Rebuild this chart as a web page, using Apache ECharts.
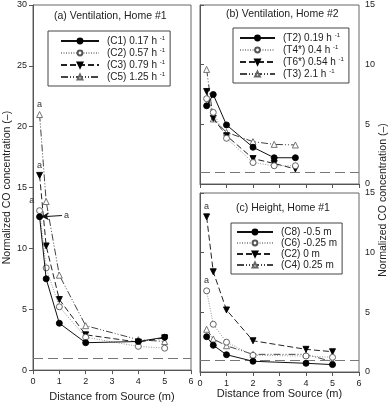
<!DOCTYPE html>
<html><head><meta charset="utf-8">
<script src="https://cdn.jsdelivr.net/npm/echarts@6/dist/echarts.min.js"></script>
<style>html,body{margin:0;padding:0;background:#fff}#c{width:392px;height:407px}</style>
</head><body><div id="c"></div>
<script>
// Panel (a) Ventilation, Home #1
const xA = [0.25, 0.5, 1, 2, 4, 5];
const c1 = [12.6, 7.5, 3.85, 2.25, 2.35, 2.7];
const c2 = [13.1, 8.4, 5.2, 2.7, 1.95, 1.8];
const c3 = [16.0, 10.2, 5.8, 2.9, 2.3, 2.65];
const c5 = [21.0, 13.85, 7.8, 3.65, 2.5, 2.35];
const namesA = ['(C1) 0.17 h', '(C2) 0.57 h', '(C3) 0.79 h', '(C5) 1.25 h'];
// Panel (b) Ventilation, Home #2
const xB = [0.25, 0.5, 1, 2, 2.8, 3.6];
const t2 = [6.55, 7.5, 4.95, 3.08, 2.2, 2.2];
const t4 = [7.15, 6.0, 3.83, 1.8, 1.53, 1.53];
const t6 = [7.75, 5.5, 4.05, 2.13, 1.72, 1.26];
const t3 = [9.6, 5.45, 4.33, 3.55, 3.32, 3.27];
const namesB = ['(T2) 0.19 h', '(T4*) 0.4 h', '(T6*) 0.54 h', '(T3) 2.1 h'];
// Panel (c) Height, Home #1
const xC = [0.25, 0.5, 1, 2, 4, 5];
const c8 = [2.96, 2.24, 1.45, 0.9, 0.73, 0.62];
const c6 = [6.8, 4.0, 2.5, 1.4, 1.34, 1.23];
const c2h = [13.0, 8.4, 5.2, 2.62, 1.9, 1.7];
const c4 = [3.58, 2.77, 2.2, 1.48, 1.48, 0.86];
const namesC = ['(C8) -0.5 m', '(C6) -0.25 m', '(C2) 0 m', '(C4) 0.25 m'];
const refLevel = 1;

const FONT = 'Liberation Sans, Arial, sans-serif';
const chart = echarts.init(document.getElementById('c'), null, {renderer: 'canvas'});

const styles = [
  {symbol: 'circle', symbolSize: 6, fill: '#000', stroke: '#000', line: {type: 'solid', color: '#111'}},
  {symbol: 'circle', symbolSize: 6, fill: '#fff', stroke: '#555', line: {type: [1, 1.5], color: '#999'}},
  {symbol: 'triangle', symbolRotate: 180, symbolSize: 6, fill: '#000', stroke: '#000', line: {type: [6, 3], color: '#222'}},
  {symbol: 'triangle', symbolSize: 6, fill: '#fff', stroke: '#666', line: {type: [7, 2, 1, 2, 1, 2], color: '#444'}}
];

function pts(xs, ys, labels) {
  return xs.map((x, i) => {
    const d = {value: [x, ys[i]]};
    if (labels && labels[i]) d.label = labels[i];
    return d;
  });
}
const aLabel = (pos) => ({show: true, formatter: 'a', position: pos || 'top', distance: 2, fontSize: 9, color: '#333', fontFamily: FONT});

function ser(name, idx, xs, ys, k, labels, extra) {
  const s = styles[k];
  return Object.assign({
    name: name, type: 'line', xAxisIndex: idx, yAxisIndex: idx,
    data: pts(xs, ys, labels),
    symbol: s.symbol, symbolSize: s.symbolSize, symbolRotate: s.symbolRotate || 0,
    showAllSymbol: true,
    itemStyle: {color: s.fill, borderColor: s.stroke, borderWidth: 0.9},
    lineStyle: {type: s.line.type, color: s.line.color, width: 1},
    emphasis: {disabled: true}, animation: false, z: 5 - k
  }, extra || {});
}

const refLine = {silent: true, symbol: 'none', label: {show: false},
  lineStyle: {type: [10, 5], color: '#777', width: 1}, data: [{yAxis: refLevel}]};

function xAxis(idx, showLabels, name) {
  return {
    gridIndex: idx, type: 'value', min: 0, max: 6, interval: 1,
    axisLine: {show: true, onZero: false, lineStyle: {color: '#555'}},
    axisTick: {show: true, length: 4, inside: false, lineStyle: {color: '#555'}},
    axisLabel: {show: showLabels, margin: 7, fontSize: 9, color: '#222', fontFamily: FONT},
    splitLine: {show: false},
    name: name || '', nameLocation: 'middle', nameGap: 16,
    nameTextStyle: {fontSize: 11, color: '#222', fontFamily: FONT}
  };
}
function yAxis(idx, max, pos, name) {
  return {
    gridIndex: idx, type: 'value', min: 0, max: max, interval: 5, position: pos,
    axisLine: {show: true, lineStyle: {color: '#555'}},
    axisTick: {show: true, length: 4, lineStyle: {color: '#555'}},
    axisLabel: {margin: 6, fontSize: 9, color: '#222', fontFamily: FONT},
    splitLine: {show: false},
    name: name || '', nameLocation: 'middle', nameGap: 20, nameRotate: 90,
    nameTextStyle: {fontSize: 10.5, color: '#222', fontFamily: FONT}
  };
}
function legend(names, left, top, sup, w, padL) {
  return {
    data: names, orient: 'vertical', left: left, top: top,
    padding: [4, 5, 4, padL], itemGap: 1, itemWidth: w, itemHeight: 6,
    borderColor: '#444', borderWidth: 1, backgroundColor: '#fff',
    selectedMode: false,
    textStyle: {fontSize: 10, color: '#222', fontFamily: FONT, lineHeight: 10, padding: [0, 0, 0, 3],
      rich: {n: {fontSize: 10, fontFamily: FONT, color: '#222'}, s: {fontSize: 6, fontFamily: FONT, color: '#222', padding: [0, 0, 6, 0]}}},
    formatter: sup ? (n) => '{n|' + n + '} {s|-1}' : (n) => n
  };
}

const yTitle = 'Normalized CO concentration (–)';

const option = {
  animation: false,
  backgroundColor: '#fff',
  textStyle: {fontFamily: FONT},
  grid: [
    {left: 33, top: 5, width: 158, height: 368, show: true, borderColor: '#666', borderWidth: 1, backgroundColor: 'transparent'},
    {left: 200, top: 5, width: 159, height: 179, show: true, borderColor: '#666', borderWidth: 1, backgroundColor: 'transparent'},
    {left: 200, top: 193, width: 159, height: 179, show: true, borderColor: '#666', borderWidth: 1, backgroundColor: 'transparent'}
  ],
  xAxis: [xAxis(0, true, 'Distance from Source (m)'), xAxis(1, false), xAxis(2, true, 'Distance from Source (m)')],
  yAxis: [yAxis(0, 30, 'left', yTitle), yAxis(1, 15, 'right'), yAxis(2, 15, 'right')],
  legend: [
    legend(namesA, 48, 31, true, 38, 12),
    legend(namesB, 233, 28, true, 35, 6),
    legend(namesC, 231, 223, false, 36, 5)
  ],
  graphic: [
    {type: 'text', left: 54, top: 11, style: {text: '(a) Ventilation, Home #1', fontSize: 10.5, fill: '#222', fontFamily: FONT}},
    {type: 'text', left: 226, top: 9, style: {text: '(b) Ventilation, Home #2', fontSize: 10.5, fill: '#222', fontFamily: FONT}},
    {type: 'text', left: 236, top: 203, style: {text: '(c) Height, Home #1', fontSize: 10.5, fill: '#222', fontFamily: FONT}},
    {type: 'text', x: 383, y: 200, rotation: Math.PI / 2,
     style: {text: yTitle, fontSize: 10.5, fill: '#222', fontFamily: FONT, align: 'center', verticalAlign: 'middle'}}
  ],
  series: [
    ser(namesA[0], 0, xA, c1, 0, null, {markLine: {silent: true, label: {show: true, position: 'end', formatter: 'a', fontSize: 9, color: '#333', distance: 2},
      lineStyle: {type: 'solid', color: '#111', width: 1},
      data: [[{coord: [0.33, 12.6], symbol: 'arrow', symbolSize: [6, 7]}, {coord: [1.1, 12.7], symbol: 'none'}]]}}),
    ser(namesA[1], 0, xA, c2, 1, [{show: true, formatter: 'a', position: [-7, -11], fontSize: 9, color: '#333'}], {markLine: refLine}),
    ser(namesA[2], 0, xA, c3, 2, [aLabel()]),
    ser(namesA[3], 0, xA, c5, 3, [aLabel()]),
    ser(namesB[0], 1, xB, t2, 0, null, {markLine: refLine}),
    ser(namesB[1], 1, xB, t4, 1),
    ser(namesB[2], 1, xB, t6, 2),
    ser(namesB[3], 1, xB, t3, 3),
    ser(namesC[0], 2, xC, c8, 0, null, {markLine: refLine}),
    ser(namesC[1], 2, xC, c6, 1, [aLabel()]),
    ser(namesC[2], 2, xC, c2h, 2, [aLabel()]),
    ser(namesC[3], 2, xC, c4, 3)
  ]
};
chart.setOption(option);
</script></body></html>
